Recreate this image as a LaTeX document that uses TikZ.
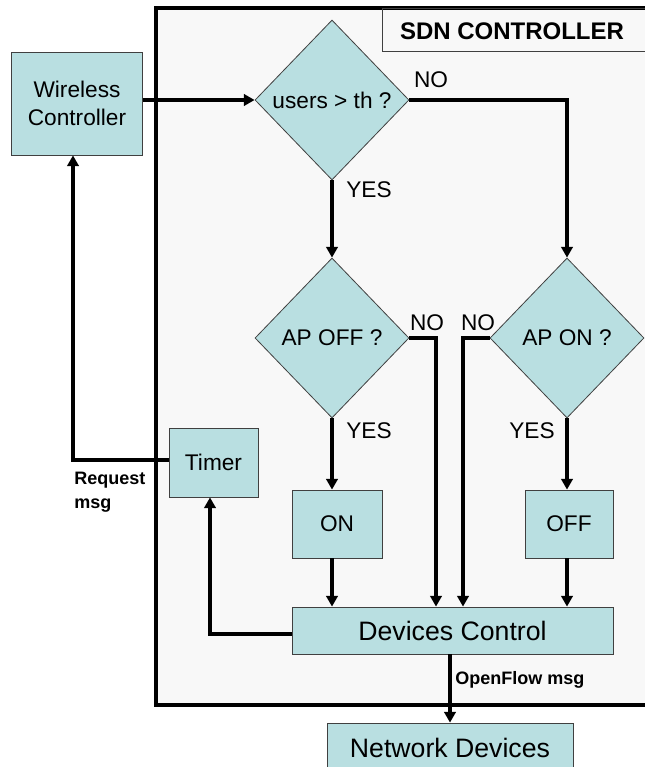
\documentclass[tikz,border=0pt]{standalone}
\usepackage{fontspec}
\setmainfont{Liberation Sans}
\usetikzlibrary{shapes.geometric,arrows.meta}

\begin{document}
\begin{tikzpicture}[x=0.75pt,y=0.75pt,yscale=-1,xscale=1,
  flowbox/.style={draw={rgb, 255:red, 64; green, 64; blue, 64 },line width=0.6pt,fill={rgb, 255:red, 185; green, 223; blue, 225 },inner sep=0pt,align=center,font=\fontsize{17}{20.5}\selectfont},
  decision/.style={flowbox,diamond,minimum width=115.5pt,minimum height=120pt},
  bigbox/.style={flowbox,font=\fontsize{20}{24}\selectfont},
  lbl/.style={inner sep=0pt,font=\fontsize{17}{20}\selectfont},
  msglbl/.style={inner sep=0pt,align=left,font=\fontsize{13.5}{18}\selectfont\bfseries},
  flow/.style={line width=3pt,-{Triangle[length=8pt,width=8.5pt]}}]
\useasboundingbox (0,0) rectangle (644,767);

%SDN controller frame
\draw [line width=3pt,fill={rgb, 255:red, 248; green, 248; blue, 248 }] (156,8) rectangle (680,705);
%Title box
\draw [color={rgb, 255:red, 64; green, 64; blue, 64 },line width=0.75pt] (382,9) rectangle (680,52);
\node [inner sep=0pt,font=\fontsize{18}{22}\selectfont\bfseries] (sdntitle) at (512,31) {SDN CONTROLLER};

% Boxes and decisions
\node [flowbox,minimum width=98.25pt,minimum height=77.25pt] (wc) at (77,103.5) {Wireless\\Controller};
\node [decision] (users) at (332,100) {users > th ?};
\node [decision] (apoff) at (332,338) {AP OFF ?};
\node [decision] (apon) at (567,338) {AP ON ?};
\node [flowbox,minimum width=66.75pt,minimum height=51.75pt] (timer) at (213.5,462.5) {Timer};
\node [flowbox,minimum width=67.5pt,minimum height=51pt] (on) at (337,524) {ON};
\node [flowbox,minimum width=66pt,minimum height=51pt] (off) at (569,524) {OFF};
\node [bigbox,minimum width=240.75pt,minimum height=35.25pt] (devctl) at (452.5,630.5) {Devices Control};
\node [bigbox,minimum width=184.5pt,minimum height=37.5pt] (netdev) at (450,748) {Network Devices};

% Bend points
\coordinate (noL) at (436,338);
\coordinate (noR) at (463,338);
\coordinate (req) at (73,460);
\coordinate (fb) at (210,634);

% Connectors
\draw [flow] (wc.east |- users.west) -- (users.west);
\draw [flow] (users.east) -| (apon.north);
\draw [flow] (users.south) -- (apoff.north);
\draw [flow] (apoff.south) -- (apoff.south |- on.north);
\draw [flow] (apon.south) -- (apon.south |- off.north);
\draw [flow] (apoff.east) -- (noL) -- (noL |- devctl.north);
\draw [flow] (apon.west) -- (noR) -- (noR |- devctl.north);
\draw [flow] (apoff.south |- on.south) -- (apoff.south |- devctl.north);
\draw [flow] (apon.south |- off.south) -- (apon.south |- devctl.north);
\draw [flow] (devctl.west |- fb) -- (fb) -- (fb |- timer.south);
\draw [flow] (timer.west |- req) -- (req) -- (req |- wc.south);
\draw [flow] (devctl.south -| netdev.north) -- (netdev.north);

% Labels
\node [lbl] (no1) at (431,80) {NO};
\node [lbl] (yes1) at (369,190) {YES};
\node [lbl] (no2) at (427,323) {NO};
\node [lbl] (no3) at (478,323) {NO};
\node [lbl] (yes2) at (369,431) {YES};
\node [lbl] (yes3) at (532,431) {YES};
\node [msglbl,anchor=north west] (reqmsg) at (74,472) {Request\\msg};
\node [msglbl,anchor=base west] (ofmsg) at (455,684.5) {OpenFlow msg};

\end{tikzpicture}
\end{document}
